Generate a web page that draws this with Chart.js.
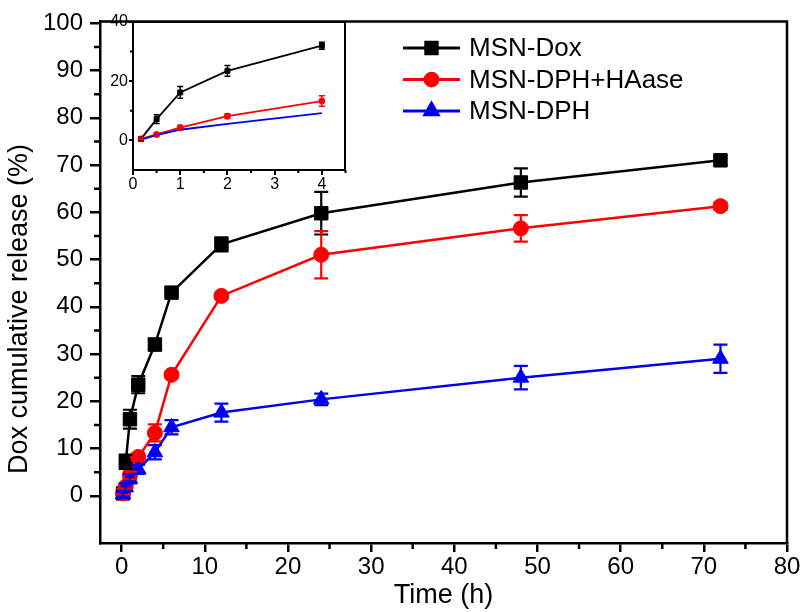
<!DOCTYPE html>
<html><head><meta charset="utf-8">
<script src="https://cdn.jsdelivr.net/npm/chart.js@4/dist/chart.umd.min.js"></script>
<style>
html,body{margin:0;padding:0;background:#fff;}
#wrap{position:relative;width:803px;height:612px;overflow:hidden;}
#main{position:absolute;left:0;top:0;}
#inset{position:absolute;left:95px;top:8px;}
</style></head><body>
<div id="wrap"><canvas id="main" width="803" height="612"></canvas><canvas id="inset" width="265" height="195"></canvas></div>
<script>
// ---- data ----
const timeH = [0.17, 0.5, 1, 2, 4, 6, 12, 24, 48, 72];
const seriesNames = ['MSN-Dox', 'MSN-DPH+HAase', 'MSN-DPH'];
const msnDox = [0.5, 7.2, 16.2, 23.5, 32.0, 43.0, 53.2, 59.8, 66.3, 71.0];
const msnDoxErr = [0.5, 1.5, 2.0, 1.8, 1.2, 0.5, 1.5, 4.5, 3.0, 1.0];
const msnDphHaase = [0.5, 2.0, 4.3, 8.2, 13.3, 25.6, 42.3, 51.0, 56.6, 61.3];
const msnDphHaaseErr = [0.3, 0.5, 0.8, 0.8, 1.8, 0.6, 0.5, 5.0, 2.8, 0.8];
const msnDph = [0.3, 1.8, 3.6, 5.6, 9.2, 14.5, 17.6, 20.4, 25.0, 29.0];
const msnDphErr = [0.5, 0.8, 1.0, 1.0, 1.5, 1.5, 1.9, 1.2, 2.5, 3.0];
const xTicksMain = [0, 10, 20, 30, 40, 50, 60, 70, 80];
const yTicksMain = [0, 10, 20, 30, 40, 50, 60, 70, 80, 90, 100];
const insetCount = 5; // first five time points (0-4 h) in the inset
const xTicksInset = [0, 1, 2, 3, 4];
const yTicksInset = [0, 20, 40];
const xTitle = 'Time (h)';
const yTitle = 'Dox cumulative release (%)';

const colors = ['#000000', '#ff0000', '#0000ee'];
const FONT = "'Liberation Sans', Arial, sans-serif";

function pts(xs, ys, n) {
  const out = [];
  for (let i = 0; i < n; i++) out.push({x: xs[i], y: ys[i]});
  return out;
}

const errorBars = {
  id: 'errorBars',
  afterDatasetsDraw(chart, args, opts) {
    const ctx = chart.ctx;
    const ys = chart.scales.y;
    chart.data.datasets.forEach((ds, di) => {
      if (!ds.errors) return;
      const meta = chart.getDatasetMeta(di);
      ctx.save();
      ctx.strokeStyle = ds.borderColor;
      ctx.lineWidth = opts.width;
      meta.data.forEach((el, i) => {
        const e = ds.errors[i];
        const v = ds.data[i].y;
        const x = el.x;
        const y1 = ys.getPixelForValue(v + e);
        const y2 = ys.getPixelForValue(v - e);
        ctx.beginPath();
        ctx.moveTo(x, y1); ctx.lineTo(x, y2);
        ctx.moveTo(x - opts.cap, y1); ctx.lineTo(x + opts.cap, y1);
        ctx.moveTo(x - opts.cap, y2); ctx.lineTo(x + opts.cap, y2);
        ctx.stroke();
      });
      ctx.restore();
    });
  }
};

const frameAndMinor = {
  id: 'frameAndMinor',
  afterDraw(chart, args, opts) {
    const ctx = chart.ctx;
    const a = chart.chartArea;
    const xs = chart.scales.x, ys = chart.scales.y;
    ctx.save();
    ctx.strokeStyle = '#000';
    ctx.lineWidth = opts.width;
    ctx.beginPath();
    ctx.moveTo(a.left, a.top); ctx.lineTo(a.right, a.top); ctx.lineTo(a.right, a.bottom);
    ctx.stroke();
    ctx.beginPath();
    opts.xMinor.forEach(v => {
      const px = xs.getPixelForValue(v);
      ctx.moveTo(px, a.bottom); ctx.lineTo(px, a.bottom + opts.minorLen);
    });
    opts.yMinor.forEach(v => {
      const py = ys.getPixelForValue(v);
      ctx.moveTo(a.left, py); ctx.lineTo(a.left - opts.minorLen, py);
    });
    ctx.stroke();
    if (opts.yTitle) {
      ctx.fillStyle = '#000';
      ctx.font = opts.titleFont;
      ctx.textAlign = 'center';
      ctx.textBaseline = 'middle';
      ctx.translate(opts.yTitleX, opts.yTitleY);
      ctx.rotate(-Math.PI / 2);
      ctx.fillText(opts.yTitle, 0, 0);
    }
    ctx.restore();
  }
};

const customLegend = {
  id: 'customLegend',
  afterDraw(chart, args, opts) {
    if (!opts.show) return;
    const ctx = chart.ctx;
    ctx.save();
    chart.data.datasets.forEach((ds, i) => {
      const y = opts.y0 + i * opts.dy;
      ctx.strokeStyle = ds.borderColor;
      ctx.fillStyle = ds.backgroundColor;
      ctx.lineWidth = 3;
      ctx.beginPath();
      ctx.moveTo(opts.x0, y); ctx.lineTo(opts.x0 + opts.len, y);
      ctx.stroke();
      Chart.helpers.drawPoint(ctx, {pointStyle: ds.pointStyle, radius: ds.pointRadius * 0.85, rotation: 0, borderWidth: 1}, opts.x0 + opts.len / 2, y);
      ctx.fillStyle = '#000';
      ctx.font = opts.font;
      ctx.textBaseline = 'middle';
      ctx.fillText(ds.label, opts.x0 + opts.len + 9, y + 1);
    });
    ctx.restore();
  }
};

function makeDatasets(n, small) {
  const ys = [msnDox, msnDphHaase, msnDph];
  const es = [msnDoxErr, msnDphHaaseErr, msnDphErr];
  const styles = ['rect', 'circle', 'triangle'];
  const radii = small ? [3.5, 3, 0] : [9.5, 7.5, 9];
  return ys.map((arr, i) => ({
    label: seriesNames[i],
    data: pts(timeH, arr, n),
    borderColor: colors[i],
    backgroundColor: colors[i],
    pointBackgroundColor: colors[i],
    pointBorderColor: colors[i],
    pointStyle: styles[i],
    pointRadius: radii[i],
    pointBorderWidth: 1,
    borderWidth: small ? 1.8 : 2.5,
    tension: 0,
    order: 2 - i,
    errors: (small && i === 2) ? null : es[i]
  }));
}

// ---- main chart ----
new Chart(document.getElementById('main'), {
  type: 'line',
  data: {datasets: makeDatasets(timeH.length, false)},
  options: {
    responsive: false,
    animation: false,
    layout: {padding: {left: 0, right: 16, top: 13, bottom: 0}},
    plugins: {
      legend: {display: false},
      tooltip: {enabled: false},
      errorBars: {width: 2.2, cap: 7},
      frameAndMinor: {width: 2.5, minorLen: 6, xMinor: [5, 15, 25, 35, 45, 55, 65, 75], yMinor: [5, 15, 25, 35, 45, 55, 65, 75, 85, 95],
        yTitle: yTitle, yTitleX: 20, yTitleY: 309, titleFont: "27px " + FONT},
      customLegend: {show: true, x0: 403, y0: 48, dy: 31.5, len: 57, font: "26px " + FONT}
    },
    scales: {
      x: {
        type: 'linear', min: -2.6, max: 80,
        afterBuildTicks: s => { s.ticks = xTicksMain.map(v => ({value: v})); },
        afterFit: s => { s.height = 69; },
        grid: {drawOnChartArea: false, drawTicks: true, tickLength: 9, color: '#000', lineWidth: 2.5},
        border: {display: true, color: '#000', width: 2.5},
        ticks: {color: '#000', font: {family: FONT, size: 24}, padding: 1, maxRotation: 0},
        title: {display: true, text: xTitle, color: '#000', font: {family: FONT, size: 27}, padding: {top: 0, bottom: 0}}
      },
      y: {
        type: 'linear', min: -10, max: 100.4,
        afterBuildTicks: s => { s.ticks = yTicksMain.map(v => ({value: v})); },
        afterFit: s => { s.width = 100; },
        grid: {drawOnChartArea: false, drawTicks: true, tickLength: 10, color: '#000', lineWidth: 2.5},
        border: {display: true, color: '#000', width: 2.5},
        ticks: {color: '#000', font: {family: FONT, size: 24}, padding: 7}
      }
    }
  },
  plugins: [errorBars, frameAndMinor, customLegend]
});

// ---- inset chart ----
new Chart(document.getElementById('inset'), {
  type: 'line',
  data: {datasets: makeDatasets(insetCount, true)},
  options: {
    responsive: false,
    animation: false,
    layout: {padding: {left: 0, right: 15, top: 14, bottom: 0}},
    plugins: {
      legend: {display: false},
      tooltip: {enabled: false},
      errorBars: {width: 1.5, cap: 3},
      frameAndMinor: {width: 2, minorLen: 3, xMinor: [0.5, 1.5, 2.5, 3.5, 4.5], yMinor: [10, 30]},
      customLegend: {show: false}
    },
    scales: {
      x: {
        type: 'linear', min: 0, max: 4.49,
        afterBuildTicks: s => { s.ticks = xTicksInset.map(v => ({value: v})); },
        afterFit: s => { s.height = 33; },
        grid: {drawOnChartArea: false, drawTicks: true, tickLength: 5, color: '#000', lineWidth: 2},
        border: {display: true, color: '#000', width: 2},
        ticks: {color: '#000', font: {family: FONT, size: 16}, padding: 0, maxRotation: 0}
      },
      y: {
        type: 'linear', min: -10, max: 40,
        afterBuildTicks: s => { s.ticks = yTicksInset.map(v => ({value: v})); },
        afterFit: s => { s.width = 38; },
        grid: {drawOnChartArea: false, drawTicks: true, tickLength: 4, color: '#000', lineWidth: 2},
        border: {display: true, color: '#000', width: 2},
        ticks: {color: '#000', font: {family: FONT, size: 16}, padding: 1}
      }
    }
  },
  plugins: [errorBars, frameAndMinor, customLegend]
});
</script>
</body></html>
